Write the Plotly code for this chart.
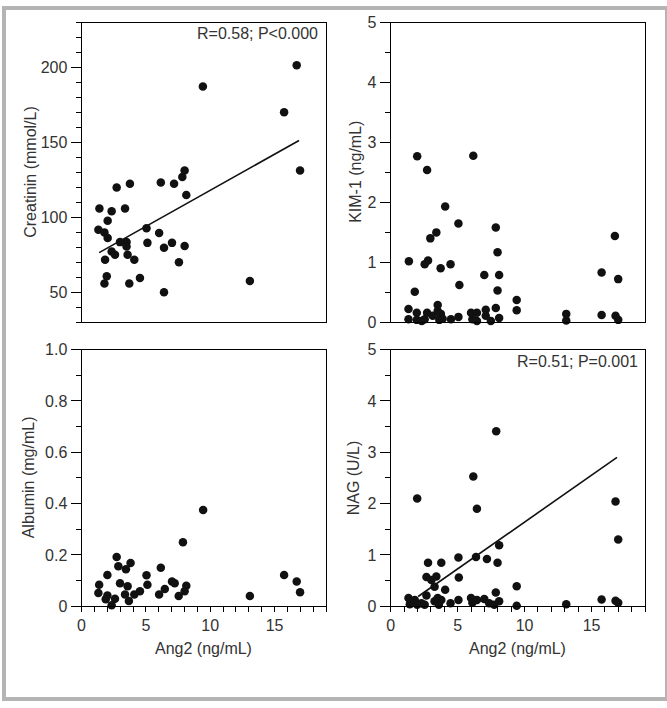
import plotly.graph_objects as go

# ---------------- data ----------------
creat_x = [9.43, 16.72, 15.74, 16.98, 8.01, 7.83, 3.76, 6.16, 7.19, 2.73, 8.14,
           1.39, 2.34, 3.38, 2.03, 1.31, 1.78, 2.03, 5.05, 6.03, 2.99, 3.50,
           3.50, 5.12, 6.41, 7.03, 8.01, 2.34, 2.60, 3.58, 1.83, 4.10, 7.57,
           1.96, 1.78, 3.71, 4.54, 6.41, 13.08]
creat_y = [187.4, 201.5, 170.2, 131.3, 131.3, 126.9, 122.4, 123.3, 122.4, 120.0, 115.0,
           106.0, 104.1, 106.0, 97.8, 91.7, 90.0, 86.3, 92.8, 89.6, 83.5, 83.5,
           80.5, 83.0, 79.8, 83.0, 80.9, 77.2, 75.0, 75.0, 71.8, 71.8, 70.0,
           60.7, 55.9, 55.9, 59.6, 50.0, 57.6]
creat_fit_x = [1.37, 16.9]
creat_fit_y = [76.5, 151.3]

kim_x = [1.98, 2.72, 6.17, 4.07, 5.06, 7.85, 3.41, 2.96, 7.98, 1.36, 2.79, 2.54,
         4.47, 3.73, 6.99, 8.10, 1.80, 5.13, 7.98, 9.41, 9.41, 15.75, 16.74, 16.99,
         15.75, 16.79, 16.99, 13.11, 13.11,
         1.33, 1.33, 1.95, 1.95, 2.32, 2.54, 2.72, 3.14, 3.51, 3.51, 3.63, 3.75,
         3.88, 4.50, 5.06, 6.00, 6.10, 6.44, 6.44, 7.10, 7.10, 7.48, 7.85, 8.10]
kim_y = [2.77, 2.54, 2.78, 1.93, 1.65, 1.58, 1.50, 1.40, 1.17, 1.02, 1.03, 0.97,
         0.97, 0.90, 0.79, 0.79, 0.51, 0.62, 0.53, 0.37, 0.20, 0.83, 1.44, 0.72,
         0.12, 0.11, 0.04, 0.14, 0.03,
         0.22, 0.05, 0.16, 0.04, 0.02, 0.05, 0.16, 0.11, 0.29, 0.19, 0.04, 0.14,
         0.06, 0.05, 0.09, 0.16, 0.05, 0.16, 0.02, 0.21, 0.11, 0.02, 0.24, 0.07]

alb_x = [9.45, 7.88, 2.73, 2.86, 3.81, 3.45, 2.01, 5.05, 6.16, 1.37, 2.99, 3.58,
         5.12, 7.03, 7.24, 8.14, 8.01, 7.55, 6.47, 6.03, 4.54, 4.10, 3.38, 3.68,
         1.31, 2.01, 1.88, 2.60, 2.34, 15.74, 16.72, 16.98, 13.08]
alb_y = [0.375, 0.249, 0.192, 0.156, 0.169, 0.144, 0.122, 0.121, 0.150, 0.084, 0.090, 0.078,
         0.084, 0.097, 0.090, 0.080, 0.059, 0.040, 0.067, 0.046, 0.059, 0.046, 0.046, 0.021,
         0.052, 0.042, 0.027, 0.029, 0.004, 0.122, 0.097, 0.055, 0.040]

nag_x = [7.88, 6.17, 1.98, 6.44, 16.79, 16.99, 8.10, 5.06, 6.37, 7.19, 2.79, 3.78,
         7.98, 2.67, 3.41, 5.09, 3.04, 3.28, 4.07, 9.41, 7.85, 2.67,
         1.33, 1.43, 1.80, 1.98, 2.30, 2.54, 3.28, 3.51, 3.60, 3.78, 4.47, 5.06,
         6.00, 6.10, 6.44, 6.99, 7.36, 7.73, 8.10, 9.41, 13.11, 15.75, 16.79, 16.99]
nag_y = [3.41, 2.53, 2.10, 1.90, 2.04, 1.30, 1.19, 0.95, 0.96, 0.92, 0.85, 0.85,
         0.85, 0.57, 0.58, 0.56, 0.51, 0.38, 0.32, 0.39, 0.27, 0.21,
         0.16, 0.04, 0.12, 0.03, 0.06, 0.03, 0.10, 0.16, 0.03, 0.12, 0.06, 0.12,
         0.16, 0.07, 0.12, 0.14, 0.06, 0.03, 0.10, 0.01, 0.04, 0.13, 0.11, 0.07]
nag_fit_x = [2.05, 16.9]
nag_fit_y = [0.19, 2.90]

x_title = "Ang2 (ng/mL)"
y_titles = ["Creatinin (mmol/L)", "KIM-1 (ng/mL)", "Albumin (mg/mL)", "NAG (U/L)"]
stat_texts = ["R=0.58; P<0.000", "R=0.51; P=0.001"]
alb_tickvals = [0, 0.2, 0.4, 0.6, 0.8, 1.0]
alb_ticktext = ["0", "0.2", "0.4", "0.6", "0.8", "1.0"]

# ---------------- figure ----------------
FONT = "Liberation Sans, Arial, Helvetica, sans-serif"
TXT = "#333333"
W, H = 667, 708

fig = go.Figure()
mk = dict(color="#111111", size=8.5)

fig.add_trace(go.Scatter(x=creat_x, y=creat_y, mode="markers", marker=mk,
                         xaxis="x", yaxis="y", cliponaxis=False))
fig.add_trace(go.Scatter(x=creat_fit_x, y=creat_fit_y, mode="lines",
                         line=dict(color="#111111", width=1.6), xaxis="x", yaxis="y"))
fig.add_trace(go.Scatter(x=kim_x, y=kim_y, mode="markers", marker=mk,
                         xaxis="x2", yaxis="y2", cliponaxis=False))
fig.add_trace(go.Scatter(x=alb_x, y=alb_y, mode="markers", marker=mk,
                         xaxis="x3", yaxis="y3", cliponaxis=False))
fig.add_trace(go.Scatter(x=nag_x, y=nag_y, mode="markers", marker=mk,
                         xaxis="x4", yaxis="y4", cliponaxis=False))
fig.add_trace(go.Scatter(x=nag_fit_x, y=nag_fit_y, mode="lines",
                         line=dict(color="#111111", width=1.6), xaxis="x4", yaxis="y4"))

# page pixel -> paper fraction
def px_x(p):
    return p / W

def px_y(p):
    return 1 - p / H

dom_left = [px_x(78), px_x(324)]
dom_right = [px_x(389), px_x(645)]
dom_top = [px_y(322), px_y(15)]
dom_bot = [px_y(613), px_y(350)]

common = dict(showline=True, linecolor="black", linewidth=1, mirror=True,
              showgrid=False, zeroline=False,
              tickfont=dict(family=FONT, size=16, color=TXT))

def xax(domain, anchor, labels):
    d = dict(common, domain=domain, anchor=anchor, range=[0, 19])
    if labels:
        d.update(ticks="outside", ticklen=5, tickcolor="black", dtick=5, tick0=0,
                 minor=dict(dtick=1, tick0=0, ticks="outside", ticklen=5, tickcolor="black"))
    else:
        d.update(ticks="", showticklabels=False)
    return d

def yax(domain, anchor, rng, dtick, mdtick, **kw):
    d = dict(common, domain=domain, anchor=anchor, range=rng,
             ticks="outside", ticklen=10, tickcolor="black", dtick=dtick, tick0=0,
             minor=dict(dtick=mdtick, tick0=0, ticks="outside", ticklen=5, tickcolor="black"))
    d.update(kw)
    return d

fig.update_layout(
    width=W, height=H,
    margin=dict(l=0, r=0, t=0, b=0),
    paper_bgcolor="white", plot_bgcolor="white",
    showlegend=False,
    font=dict(family=FONT, size=16, color=TXT),
    xaxis=xax(dom_left, "y", False),
    yaxis=yax(dom_top, "x", [30, 230], 50, 10),
    xaxis2=xax(dom_right, "y2", False),
    yaxis2=yax(dom_top, "x2", [0, 5], 1, 0.5),
    xaxis3=xax(dom_left, "y3", True),
    yaxis3=yax(dom_bot, "x3", [0, 1], None, 0.1, tickmode="array",
               tickvals=alb_tickvals, ticktext=alb_ticktext),
    xaxis4=xax(dom_right, "y4", True),
    yaxis4=yax(dom_bot, "x4", [0, 5], 1, 0.5),
)

ann = []
for cx in [201, 517]:
    ann.append(dict(x=px_x(cx), y=px_y(656.5), xref="paper", yref="paper",
                    text=x_title, showarrow=False, xanchor="center", yanchor="middle",
                    font=dict(family=FONT, size=16, color=TXT)))
for (cx, cy), t in zip([(27, 168), (354, 168), (25, 481), (352, 481)], y_titles):
    ann.append(dict(x=px_x(cx), y=px_y(cy), xref="paper", yref="paper",
                    text=t, showarrow=False, textangle=-90,
                    xanchor="center", yanchor="middle",
                    font=dict(family=FONT, size=16, color=TXT)))
for (rx, cy), t in zip([(318, 26), (640, 362)], stat_texts):
    ann.append(dict(x=px_x(rx), y=px_y(cy), xref="paper", yref="paper",
                    text=t, showarrow=False, xanchor="right", yanchor="middle",
                    font=dict(family=FONT, size=16, color=TXT)))
fig.update_layout(annotations=ann)

# light grey outer frame of the figure
fig.add_shape(type="rect", xref="paper", yref="paper", x0=0, y0=0, x1=1, y1=1,
              line=dict(color="#b4b4b4", width=4), fillcolor="rgba(0,0,0,0)")

fig.write_html("out.html", config={"displayModeBar": False},
               post_script="document.body.style.margin='0';document.body.style.overflow='hidden';")
